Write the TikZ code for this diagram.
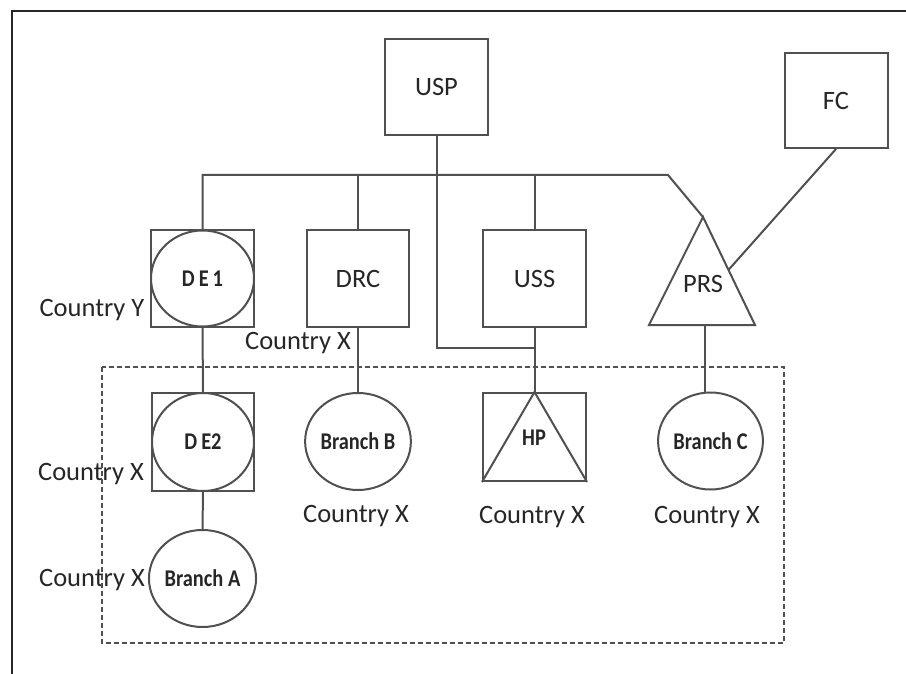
\documentclass[tikz,border=0pt]{standalone}
\usepackage{fontspec}
\setmainfont{Carlito}
\newfontfamily\narrowbold[FakeStretch=0.85]{Carlito Bold}
\usetikzlibrary{shapes.geometric,calc}

\definecolor{ink}{HTML}{262626}
\definecolor{wire}{HTML}{505050}

\tikzset{
  wirestyle/.style={draw=wire, line width=2pt},
  entitybox/.style={rectangle, wirestyle, inner sep=0pt, fill=none},
  entityoval/.style={ellipse, wirestyle, inner sep=0pt, text=ink,
    font=\narrowbold\fontsize{24}{24}\selectfont},
  bigtext/.style={text=ink, font=\fontsize{26.5}{26.5}\selectfont, inner sep=0pt},
  smalltext/.style={text=ink, font=\narrowbold\fontsize{24}{24}\selectfont, inner sep=0pt},
  grouping/.style={draw=wire, line width=1.6pt, dash pattern=on 5pt off 3pt},
}

\begin{document}
\begin{tikzpicture}[x=1pt, y=-1pt, line join=miter]
\useasboundingbox (0,0) rectangle (906,674);

% page frame (top and left edges)
\draw[draw=ink, line width=2.2pt] (12,674) -- (12,11) -- (906,11);

% boxes
\node[entitybox, minimum width=103pt, minimum height=96pt] (USP) at (436.5,87) {};
\node[bigtext] (USPt) at (USP) {USP};
\node[entitybox, minimum width=103pt, minimum height=95pt] (FC) at (836,100.5) {};
\node[bigtext] (FCt) at (FC) {FC};

\node[entitybox, minimum width=103pt, minimum height=96pt] (DE1) at (202.5,278.5) {};
\node[entityoval, minimum width=103pt, minimum height=96pt] (DE1c) at (DE1) {D\,E\,1};

\node[entitybox, minimum width=102pt, minimum height=96pt] (DRC) at (358,278.5) {};
\node[bigtext] (DRCt) at (DRC) {DRC};

\node[entitybox, minimum width=103pt, minimum height=96pt] (USS) at (534.5,278.5) {};
\node[bigtext] (USSt) at (USS) {USS};

% PRS triangle
\coordinate (prsapex) at (703,217);
\coordinate (prsleft) at (649,325);
\coordinate (prsright) at (755,325);
\coordinate (prsbase) at (705,325);
\draw[wirestyle] (prsapex) -- (prsleft) -- (prsright) -- cycle;
\node[bigtext] (PRS) at (703,284) {PRS};
\coordinate (prsside) at ($(prsapex)!0.49!(prsright)$);

\node[entitybox, minimum width=102pt, minimum height=98pt] (DE2) at (203,442) {};
\node[entityoval, minimum width=102pt, minimum height=98pt] (DE2c) at (DE2) {D\,E2};

\node[entityoval, minimum width=103pt, minimum height=97pt] (BrB) at (358,441.5) {Branch B};

\node[entitybox, minimum width=103pt, minimum height=88pt] (HP) at (534.5,437) {};
\draw[wirestyle] (HP.south west) -- (HP.north) -- (HP.south east);
\node[smalltext] (HPt) at (534,438) {HP};

\node[entityoval, minimum width=103pt, minimum height=97pt] (BrC) at (710.5,441) {Branch C};

\node[entityoval, minimum width=105pt, minimum height=97pt] (BrA) at (202.5,578.5) {Branch A};

% country labels
\node[bigtext] (cyY) at (92,310) {Country Y};
\node[bigtext] (cyDRC) at (298,343) {Country X};
\node[bigtext] (cyDE2) at (91,474) {Country X};
\node[bigtext] (cyBrB) at (356,516) {Country X};
\node[bigtext] (cyHP) at (532,517) {Country X};
\node[bigtext] (cyBrC) at (707,517) {Country X};
\node[bigtext] (cyBrA) at (92,580) {Country X};

% dashed grouping frame
\draw[grouping] (102,367) rectangle (784,643);

% ownership bus from the top
\coordinate (bend) at (668,175);
\draw[wirestyle] (DE1.north) -- (DE1.north |- bend) -- (bend) -- (prsapex);
\draw[wirestyle] (DRC.north) -- (DRC.north |- bend);
\draw[wirestyle] (USS.north) -- (USS.north |- bend);

% USP down to HP
\coordinate (jog) at (534.5,348);
\draw[wirestyle] (USP.south) -- (USP.south |- jog) -- (jog);
\draw[wirestyle] (USS.south) -- (HP.north);

% remaining links
\draw[wirestyle] (FC.south) -- (prsside);
\draw[wirestyle] (DE1.south) -- (DE2.north);
\draw[wirestyle] (DE2.south) -- (BrA.north);
\draw[wirestyle] (DRC.south) -- (BrB.north);
\draw[wirestyle] (prsbase) -- (prsbase |- BrC.north);
\end{tikzpicture}
\end{document}
